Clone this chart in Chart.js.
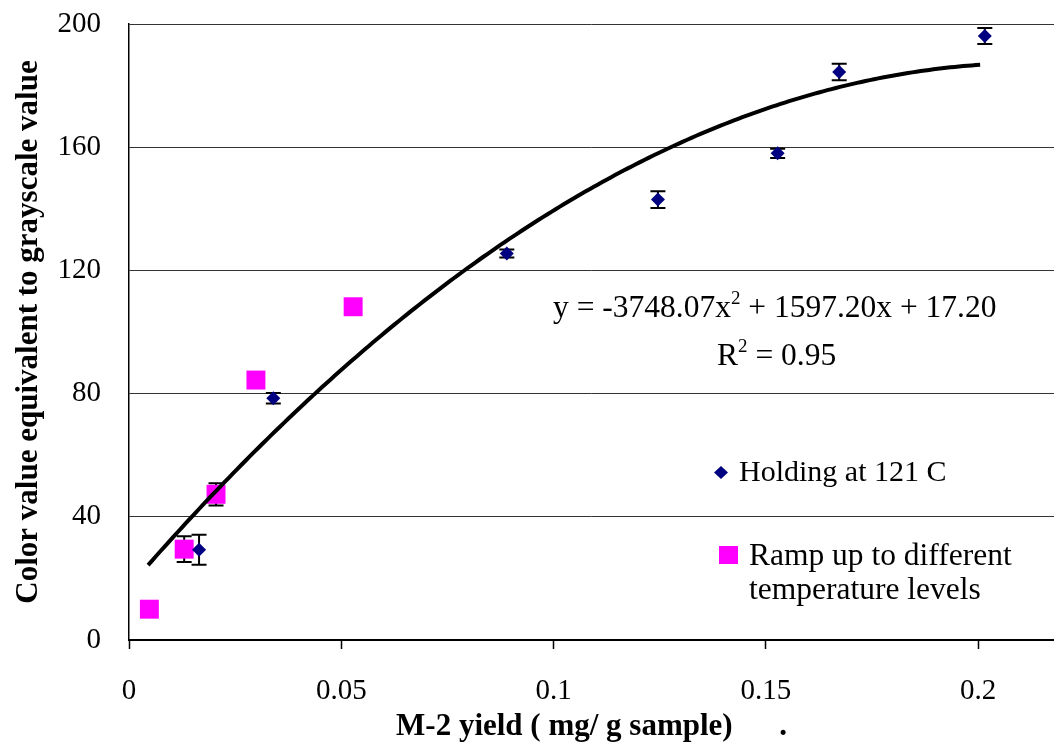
<!DOCTYPE html>
<html>
<head>
<meta charset="utf-8">
<script src="https://cdn.jsdelivr.net/npm/chart.js@4.4.0/dist/chart.umd.min.js"></script>
<style>
  html, body { margin: 0; padding: 0; background: #fff; }
  #wrap { width: 1054px; height: 749px; }
</style>
</head>
<body>
<div id="wrap"><canvas id="grafico" width="1054" height="749"></canvas></div>
<script>
const FONTE = '"Liberation Serif", "Times New Roman", serif';

// Holding at 121 C
const holdX = [0.0165, 0.034, 0.089, 0.1246, 0.1528, 0.1673, 0.2016];
const holdY = [29.3, 78.5, 125.5, 143.0, 158.0, 184.4, 196.1];
const holdErr = [4.9, 1.7, 1.3, 2.7, 1.5, 2.7, 2.6];

// Ramp up to different temperature levels
const rampX = [0.0048, 0.013, 0.0205, 0.0299, 0.0528];
const rampY = [10.0, 29.5, 47.3, 84.4, 108.2];
const rampErr = [0, 4.2, 3.6, 0, 0];

// polynomial trend: a x^2 + b x + c
const trendCoef = [-3748.07, 1597.20, 17.20];
const trendRange = [0.0045, 0.2016];

const yTicks = [0, 40, 80, 120, 160, 200];
const xTicks = [0, 0.05, 0.1, 0.15, 0.2];

const trendPts = [];
for (let x = trendRange[0]; x <= trendRange[1] + 1e-9; x += 0.002) {
  trendPts.push({ x: x, y: trendCoef[0] * x * x + trendCoef[1] * x + trendCoef[2] });
}

const pares = (xs, ys) => xs.map((x, i) => ({ x: x, y: ys[i] }));

// error bars behind the markers
const barrasErro = {
  id: 'barrasErro',
  beforeDatasetsDraw(chart) {
    const { ctx, scales: { x, y } } = chart;
    ctx.save();
    ctx.strokeStyle = '#000';
    ctx.lineWidth = 2;
    const desenha = (xs, ys, es) => {
      xs.forEach((v, i) => {
        if (!es[i]) return;
        const px = x.getPixelForValue(v);
        const top = y.getPixelForValue(ys[i] + es[i]);
        const bot = y.getPixelForValue(ys[i] - es[i]);
        ctx.beginPath();
        ctx.moveTo(px, top); ctx.lineTo(px, bot);
        ctx.moveTo(px - 7.5, top); ctx.lineTo(px + 7.5, top);
        ctx.moveTo(px - 7.5, bot); ctx.lineTo(px + 7.5, bot);
        ctx.stroke();
      });
    };
    desenha(holdX, holdY, holdErr);
    desenha(rampX, rampY, rampErr);
    ctx.restore();
  }
};

// writes text pieces one after the other, some raised as superscripts
function textoComExpoente(ctx, partes, x, base) {
  partes.forEach(([t, fo, dy]) => {
    ctx.font = fo;
    ctx.fillText(t, x, base + dy);
    x += ctx.measureText(t).width;
  });
}

// equation, R2 and legend inside the plot
const anotacoes = {
  id: 'anotacoes',
  afterDraw(chart) {
    const ctx = chart.ctx;
    ctx.save();
    ctx.fillStyle = '#000';
    ctx.textBaseline = 'alphabetic';
    ctx.textAlign = 'left';

    const f = '31.5px ' + FONTE;
    const fs = '19px ' + FONTE;
    textoComExpoente(ctx, [
      ['y = -3748.07x', f, 0],
      ['2', fs, -13],
      [' + 1597.20x + 17.20', f, 0]
    ], 553, 317);
    textoComExpoente(ctx, [
      ['R', f, 0],
      ['2', fs, -13],
      [' = 0.95', f, 0]
    ], 717, 365);

    // legend
    ctx.fillStyle = '#000080';
    ctx.beginPath();
    ctx.moveTo(721, 466); ctx.lineTo(728, 472.5); ctx.lineTo(721, 479); ctx.lineTo(714, 472.5);
    ctx.closePath();
    ctx.fill();
    ctx.fillStyle = '#000';
    ctx.font = '30px ' + FONTE;
    ctx.fillText('Holding at 121 C', 739, 481);

    ctx.fillStyle = '#FF00FF';
    ctx.fillRect(719, 546, 19, 18);
    ctx.fillStyle = '#000';
    ctx.font = '31.5px ' + FONTE;
    ctx.fillText('Ramp up to different', 749, 565);
    ctx.fillText('temperature levels', 749, 599);
    ctx.restore();
  }
};

new Chart(document.getElementById('grafico'), {
  type: 'scatter',
  data: {
    datasets: [
      {
        type: 'line',
        label: 'Tendência',
        data: trendPts,
        borderColor: '#000',
        borderWidth: 4,
        pointRadius: 0,
        tension: 0.3,
        fill: false
      },
      {
        label: 'Holding at 121 C',
        data: pares(holdX, holdY),
        pointStyle: 'rectRot',
        pointRadius: 7,
        backgroundColor: '#000080',
        borderColor: '#000080',
        borderWidth: 0
      },
      {
        label: 'Ramp up to different temperature levels',
        data: pares(rampX, rampY),
        pointStyle: 'rect',
        pointRadius: 13.4,
        backgroundColor: '#FF00FF',
        borderColor: '#FF00FF',
        borderWidth: 0
      }
    ]
  },
  options: {
    responsive: false,
    animation: false,
    devicePixelRatio: 1,
    layout: { autoPadding: false, padding: { top: 24, right: 0, left: 0, bottom: 0 } },
    plugins: {
      legend: { display: false },
      tooltip: { enabled: false }
    },
    scales: {
      x: {
        type: 'linear',
        min: 0,
        max: 0.2179,
        afterFit: (s) => { s.height = 109; },
        afterBuildTicks: (s) => { s.ticks = xTicks.map(v => ({ value: v })); },
        ticks: {
          includeBounds: false,
          color: '#000',
          padding: 25,
          maxRotation: 0,
          font: { family: FONTE, size: 29 },
          callback: (v) => String(+v.toFixed(2))
        },
        grid: { drawOnChartArea: false, tickLength: 9, tickColor: '#000', tickWidth: 1.5 },
        border: { color: '#000', width: 2 },
        title: {
          display: true,
          text: 'M-2 yield ( mg/ g sample)      .',
          color: '#000',
          padding: { top: 0, bottom: 3 },
          font: { family: FONTE, size: 31, weight: 'bold' }
        }
      },
      y: {
        min: 0,
        max: 200,
        afterFit: (s) => { s.width = 129; s.paddingTop = 0; s.paddingBottom = 0; },
        afterBuildTicks: (s) => { s.ticks = yTicks.map(v => ({ value: v })); },
        ticks: {
          color: '#000',
          padding: 28,
          font: { family: FONTE, size: 29 }
        },
        grid: { color: '#333', lineWidth: 1, drawTicks: false },
        border: { color: '#000', width: 1.5 },
        title: {
          display: true,
          text: 'Color value equivalent to grayscale value',
          color: '#000',
          padding: { top: 10, bottom: 0 },
          font: { family: FONTE, size: 31, weight: 'bold' }
        }
      }
    }
  },
  plugins: [barrasErro, anotacoes]
});
</script>
</body>
</html>
